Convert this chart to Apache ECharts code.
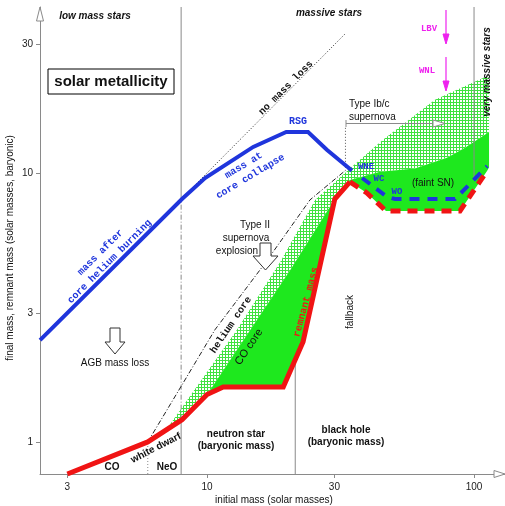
<!DOCTYPE html>
<html>
<head>
<meta charset="utf-8">
<script src="https://cdn.jsdelivr.net/npm/echarts@6/dist/echarts.min.js"></script>
<style>
html, body { margin: 0; padding: 0; background: #fff; }
#chart { width: 505px; height: 506px; }
</style>
</head>
<body>
<div id="chart"></div>
<script>
// axes (solar masses, log scale)
var xTicks = [3, 10, 30, 100];
var yTicks = [1, 3, 10, 30];
var xRange = [2.369, 130.6];
var yRange = [0.760, 41.4];

// curves: [initial mass, final mass]
var heliumBurning = [[2.37, 2.39], [8.06, 8.0], [9.83, 9.58], [14.9, 12.5], [19.8, 14.2], [23.9, 14.2], [28.1, 12.2], [33.7, 10.5], [34.9, 10.2]];
var wolfRayet = [[38.1, 9.58], [47.2, 8.15], [50.6, 8.0], [84.9, 8.0], [112, 10.6]];
var remnant = [[3, 0.76], [6, 1.0], [8.06, 1.21], [10, 1.5], [11.5, 1.6], [19.3, 1.6], [22.9, 2.36], [30.1, 8.0], [34.3, 9.26]];
var remnantWR = [[34.3, 9.26], [39.7, 8.43], [46.8, 7.22], [88.6, 7.22], [112, 10.2]];
var heliumCore = [[6, 1.0], [8.06, 1.63], [10.7, 2.61], [16.5, 4.62], [24.3, 7.94], [33.7, 10.4]];
var noMassLoss = [[8, 8], [33, 33]];
var hatchTop = [[7.08, 1.12], [12.95, 2.61], [18.8, 4.67], [25.4, 7.94], [34.3, 10.4], [45.6, 13.3], [71.4, 18.7], [113.8, 23.1]];
var coCore = [[10.1, 1.52], [20.5, 4.36], [30.1, 8.0], [34.3, 9.42]];
var greenTop = [[44.5, 10.1], [60.1, 10.4], [79.3, 11.4], [92.5, 12.4], [113.8, 14.2]];

// vertical division lines
var massiveLimit = 8;
var neoLimit = 6;
var fallbackMass = 21.4;
var ibcMass = 33;
var veryMassive = 100;

var SANS = '"Liberation Sans", Arial, sans-serif';
var MONO = '"Liberation Mono", "DejaVu Sans Mono", monospace';
var BLUE = '#1f35dc';
var RED = '#f01414';
var GREEN = '#1ee81e';
var MAGENTA = '#ee22ee';
var GRAY = '#8a8a8a';

function L(p) { return [Math.log10(p[0]), Math.log10(p[1])]; }

function line(pts, color, width, type, z) {
    return {
        type: 'line', data: pts.map(L), symbol: 'none', showSymbol: false, silent: true,
        animation: false, z: z,
        lineStyle: { color: color, width: width, type: type, join: 'miter', cap: 'butt' }
    };
}

function polygon(pts, fill, z) {
    var data = pts.map(L);
    return {
        type: 'custom', silent: true, animation: false, z: z, data: [data[0]],
        renderItem: function (params, api) {
            return {
                type: 'polygon',
                shape: { points: data.map(function (p) { return api.coord(p); }) },
                style: { fill: fill, stroke: null }
            };
        }
    };
}

// cross hatch pattern
var hatch = document.createElement('canvas');
hatch.width = 3; hatch.height = 3;
var hctx = hatch.getContext('2d');
hctx.fillStyle = '#ffffff'; hctx.fillRect(0, 0, 3, 3);
hctx.fillStyle = '#3fe23f'; hctx.fillRect(0, 0, 3, 1); hctx.fillRect(0, 0, 1, 3);

var greenPoly = coCore.concat(greenTop, [[113.8, 10.5]], remnantWR.slice().reverse(), remnant.slice(4, 8).reverse());
var hatchPoly = hatchTop.concat(greenTop.slice().reverse(), coCore.slice().reverse(), remnant.slice(2, 4).reverse());

var yMax = yRange[1], yMin = yRange[0];

function text(str, x, y, font, opts) {
    opts = opts || {};
    return {
        type: 'text', x: x, y: y, rotation: (opts.rot || 0) * Math.PI / 180, z: 100,
        style: {
            text: str, font: font, fill: opts.color || '#111', align: opts.align || 'center',
            verticalAlign: 'middle', lineHeight: opts.lh || 12
        }
    };
}

function poly(points, fill, stroke) {
    return { type: 'polygon', z: 100, shape: { points: points }, style: { fill: fill, stroke: stroke, lineWidth: 1 } };
}

function seg(x1, y1, x2, y2, color, w) {
    return { type: 'line', z: 100, shape: { x1: x1, y1: y1, x2: x2, y2: y2 }, style: { stroke: color, lineWidth: w || 1 } };
}

var graphics = [
    // axis arrow heads
    poly([[494, 470.5], [505, 474], [494, 477.5]], '#fff', GRAY),
    poly([[36.5, 21], [40, 7], [43.5, 21]], '#fff', GRAY),
    text('low mass stars', 95, 16, 'italic bold 10px ' + SANS),
    text('massive stars', 329, 13, 'italic bold 10px ' + SANS),
    text('very massive stars', 487, 72, 'italic bold 10px ' + SANS, { rot: 90 }),
    { type: 'rect', z: 100, shape: { x: 48, y: 69, width: 126, height: 25 }, style: { fill: null, stroke: '#000', lineWidth: 1 } },
    text('solar metallicity', 111, 82, 'bold 15px ' + SANS),
    text('no mass loss', 286, 88, 'bold 10px ' + MONO, { rot: 45 }),
    text('RSG', 298, 121, 'bold 10px ' + MONO, { color: BLUE }),
    text('Type Ib/c', 349, 104, '10px ' + SANS, { align: 'left' }),
    text('supernova', 349, 117, '10px ' + SANS, { align: 'left' }),
    seg(346, 120, 346, 127, GRAY),
    seg(346, 123.5, 434, 123.5, GRAY),
    poly([[433, 120], [445, 123.5], [433, 127]], '#fff', GRAY),
    text('WNE', 366, 167, 'bold 9px ' + MONO, { color: BLUE }),
    text('WC', 379, 179, 'bold 9px ' + MONO, { color: BLUE }),
    text('WO', 397, 192, 'bold 9px ' + MONO, { color: BLUE }),
    text('(faint SN)', 433, 183, '10px ' + SANS),
    text('LBV', 429, 29, 'bold 9px ' + MONO, { color: MAGENTA }),
    seg(446, 10, 446, 35, MAGENTA, 1.2),
    poly([[443, 34], [449, 34], [446, 44]], MAGENTA, MAGENTA),
    text('WNL', 427, 71, 'bold 9px ' + MONO, { color: MAGENTA }),
    seg(446, 57, 446, 82, MAGENTA, 1.2),
    poly([[443, 81], [449, 81], [446, 91]], MAGENTA, MAGENTA),
    text('mass after\ncore helium burning', 105, 257, 'bold 10px ' + MONO, { color: BLUE, rot: 45, lh: 13 }),
    text('mass at\ncore collapse', 247, 171, 'bold 10px ' + MONO, { color: BLUE, rot: 31, lh: 13 }),
    text('helium core', 231, 325, 'bold 10px ' + MONO, { rot: 56 }),
    text('CO core', 249, 347, '11px ' + SANS, { rot: 56 }),
    text('remnant mass', 306, 302, 'bold 10px ' + MONO, { color: RED, rot: 75 }),
    text('fallback', 350, 312, '10px ' + SANS, { rot: 90 }),
    text('Type II', 255, 225, '10px ' + SANS),
    text('supernova', 246, 238, '10px ' + SANS),
    text('explosion', 237, 251, '10px ' + SANS),
    poly([[260, 243], [271, 243], [271, 256], [278, 256], [265.5, 270], [253, 256], [260, 256]], '#fff', '#333'),
    poly([[110, 328], [120, 328], [120, 342], [125, 342], [115, 354], [105, 342], [110, 342]], '#fff', '#333'),
    text('AGB mass loss', 115, 363, '10px ' + SANS),
    text('white dwarf', 156, 448, 'bold 10px ' + SANS, { rot: 27 }),
    text('CO', 112, 467, 'bold 10px ' + SANS),
    text('NeO', 167, 467, 'bold 10px ' + SANS),
    text('neutron star\n(baryonic mass)', 236, 440, 'bold 10px ' + SANS, { lh: 12.5 }),
    text('black hole\n(baryonic mass)', 346, 436, 'bold 10px ' + SANS, { lh: 12.5 }),
    text('initial mass (solar masses)', 274, 500, '10px ' + SANS),
    text('final mass, remnant mass (solar masses, baryonic)', 10, 248, '10px ' + SANS, { rot: 90 })
];

var chart = echarts.init(document.getElementById('chart'), null, { renderer: 'canvas' });
chart.setOption({
    animation: false,
    backgroundColor: '#fff',
    grid: { left: 40, right: 0, top: 7, bottom: 32, containLabel: false, outerBoundsMode: 'none' },
    xAxis: {
        type: 'value', min: Math.log10(xRange[0]), max: Math.log10(xRange[1]),
        splitLine: { show: false },
        axisLine: { onZero: false, lineStyle: { color: GRAY, width: 1 } },
        axisTick: { customValues: xTicks.map(Math.log10), length: 4, lineStyle: { color: GRAY } },
        axisLabel: {
            customValues: xTicks.map(Math.log10), margin: 8, color: '#222', fontSize: 10, fontFamily: SANS,
            formatter: function (v) { return String(Math.round(Math.pow(10, v))); }
        }
    },
    yAxis: {
        type: 'value', min: Math.log10(yRange[0]), max: Math.log10(yRange[1]),
        splitLine: { show: false },
        axisLine: { onZero: false, lineStyle: { color: GRAY, width: 1 } },
        axisTick: { customValues: yTicks.map(Math.log10), length: 4, lineStyle: { color: GRAY } },
        axisLabel: {
            customValues: yTicks.map(Math.log10), margin: 7, color: '#222', fontSize: 10, fontFamily: SANS,
            formatter: function (v) { return String(Math.round(Math.pow(10, v))); }
        }
    },
    series: [
        polygon(hatchPoly, { image: hatch, repeat: 'repeat' }, 1),
        polygon(greenPoly, GREEN, 2),
        line([[massiveLimit, 8.0], [massiveLimit, yMax]], GRAY, 1, 'solid', 3),
        line([[massiveLimit, 1.21], [massiveLimit, 8.0]], GRAY, 1, [5, 2, 1, 2], 3),
        line([[massiveLimit, yMin], [massiveLimit, 1.21]], GRAY, 1, 'solid', 3),
        line([[neoLimit, yMin], [neoLimit, 1.0]], GRAY, 1, [1, 2], 3),
        line([[fallbackMass, yMin], [fallbackMass, 2.02]], GRAY, 1, 'solid', 3),
        line([[ibcMass, 10.45], [ibcMass, 14.8]], '#555', 1, [1, 2], 3),
        line([[veryMassive, 9.5], [veryMassive, yMax]], GRAY, 1, 'solid', 3),
        line(noMassLoss, '#222', 1, [1, 2], 4),
        line(heliumCore, '#222', 1, [5, 2, 1, 2], 4),
        line(remnant, RED, 5, 'solid', 6),
        line(remnantWR, RED, 5, [10, 7], 6),
        line(heliumBurning, BLUE, 4, 'solid', 7),
        line(wolfRayet, BLUE, 4, [10, 8], 7)
    ],
    graphic: graphics
});
</script>
</body>
</html>
